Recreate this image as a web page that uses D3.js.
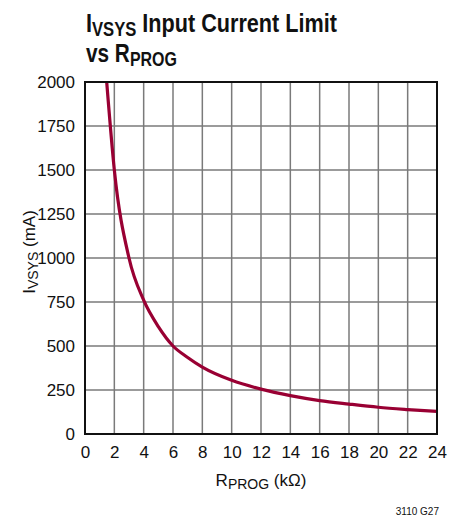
<!DOCTYPE html>
<html><head><meta charset="utf-8">
<script src="https://cdn.jsdelivr.net/npm/d3@7"></script>
<style>
body{margin:0;background:#fff;}
svg{display:block;}
text{font-family:"Liberation Sans",Arial,sans-serif;fill:#111;}
.title{font-family:"Liberation Sans",Arial,sans-serif;font-weight:bold;}
</style></head>
<body>
<svg id="c" width="466" height="516"></svg>
<script>
const rProg = [1.48, 2, 3, 4, 5, 6, 7, 8, 10, 12, 14, 16, 18, 20, 22, 24];
const iVsys = [2000, 1500, 1000, 760, 610, 500, 435, 380, 305, 255, 218, 190, 170, 152, 139, 128];
const xTicks = [0, 2, 4, 6, 8, 10, 12, 14, 16, 18, 20, 22, 24];
const yTicks = [0, 250, 500, 750, 1000, 1250, 1500, 1750, 2000];

const svg = d3.select("#c");
const L = 85, R = 437, T = 82, B = 434;
const x = d3.scaleLinear().domain([0, 24]).range([L, R]);
const y = d3.scaleLinear().domain([0, 2000]).range([B, T]);

// grid
svg.append("g").selectAll("line").data(xTicks.slice(1, -1)).join("line")
  .attr("x1", d => x(d)).attr("x2", d => x(d)).attr("y1", T).attr("y2", B)
  .attr("stroke", "#7a7a7a").attr("stroke-width", 1.5);
svg.append("g").selectAll("line").data(yTicks.slice(1, -1)).join("line")
  .attr("y1", d => y(d)).attr("y2", d => y(d)).attr("x1", L).attr("x2", R)
  .attr("stroke", "#7a7a7a").attr("stroke-width", 1.5);

// axes (labels only)
const xa = svg.append("g").attr("transform", `translate(0,${B})`)
  .call(d3.axisBottom(x).tickValues(xTicks).tickSize(0).tickPadding(12).tickFormat(d3.format("d")));
xa.select(".domain").remove();
xa.selectAll("text").style("font-size", "17px").style("font-family", "'Liberation Sans',Arial,sans-serif").attr("fill", "#111");
const ya = svg.append("g").attr("transform", `translate(${L},0)`)
  .call(d3.axisLeft(y).tickValues(yTicks).tickSize(0).tickPadding(10).tickFormat(d3.format("d")));
ya.select(".domain").remove();
ya.selectAll("text").style("font-size", "17px").style("font-family", "'Liberation Sans',Arial,sans-serif").attr("fill", "#111");

// curve
const data = rProg.map((r, i) => [r, iVsys[i]]);
svg.append("path").datum(data)
  .attr("d", d3.line().x(d => x(d[0])).y(d => y(d[1])).curve(d3.curveMonotoneX))
  .attr("fill", "none").attr("stroke", "#990033").attr("stroke-width", 3.2)
  .attr("stroke-linejoin", "round");

// frame
svg.append("rect").attr("x", L).attr("y", T).attr("width", R - L).attr("height", B - T)
  .attr("fill", "none").attr("stroke", "#111").attr("stroke-width", 2);

// title (condensed by horizontal scaling)
function condensed(tx, ty, targetW, parts) {
  const g = svg.append("g");
  const t = g.append("text").attr("class", "title").attr("x", 0).attr("y", 0).style("font-size", "26px");
  parts.forEach(p => t.append("tspan").attr("dy", p.dy).style("font-size", p.fs).text(p.s));
  const w = t.node().getComputedTextLength();
  g.attr("transform", `translate(${tx},${ty}) scale(${targetW / w},1)`);
}
condensed(86, 32, 251, [
  {s: "I", dy: 0, fs: "26px"}, {s: "VSYS", dy: 4, fs: "20px"}, {s: " Input Current Limit", dy: -4, fs: "26px"}
]);
condensed(86, 62, 91, [
  {s: "vs R", dy: 0, fs: "26px"}, {s: "PROG", dy: 4, fs: "20px"}
]);

// x label
const xl = svg.append("text").attr("x", (L + R) / 2).attr("y", 486).attr("text-anchor", "middle").style("font-size", "17px");
xl.append("tspan").text("R");
xl.append("tspan").attr("dy", 3).style("font-size", "14px").text("PROG");
xl.append("tspan").attr("dy", -3).text(" (kΩ)");

// y label
const yl = svg.append("text").attr("transform", `translate(35,${(T + B) / 2 - 6}) rotate(-90)`)
  .attr("text-anchor", "middle").style("font-size", "17px");
yl.append("tspan").text("I");
yl.append("tspan").attr("dy", 3).style("font-size", "14px").text("VSYS");
yl.append("tspan").attr("dy", -3).text(" (mA)");

// footnote
svg.append("text").attr("x", 439).attr("y", 515).attr("text-anchor", "end")
  .style("font-size", "10px").text("3110 G27");
</script>
</body></html>
